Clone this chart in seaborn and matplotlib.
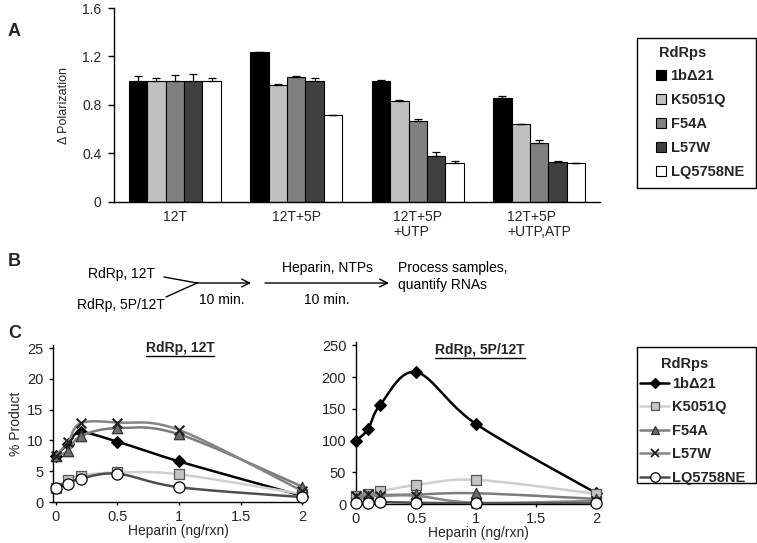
import numpy as np
import pandas as pd
import matplotlib
matplotlib.use("Agg")
import matplotlib.pyplot as plt
import seaborn as sns
from matplotlib.patches import Patch, FancyArrowPatch, Rectangle
from matplotlib.lines import Line2D

sns.set_theme(style="white")
plt.rcParams['font.family'] = ['Liberation Sans', 'DejaVu Sans']

# ---------------- data ----------------
rdrps = ["1bΔ21", "K5051Q", "F54A", "L57W", "LQ5758NE"]
conditions = ["12T", "12T+5P", "12T+5P\n+UTP", "12T+5P\n+UTP,ATP"]

pol_1b = [1.00, 1.235, 1.00, 0.86]
pol_k = [1.00, 0.967, 0.835, 0.64]
pol_f = [1.00, 1.03, 0.665, 0.49]
pol_l = [1.00, 0.995, 0.38, 0.33]
pol_lq = [1.00, 0.715, 0.32, 0.32]
err_1b = [0.036, 0.005, 0.010, 0.012]
err_k = [0.022, 0.004, 0.003, 0.003]
err_f = [0.050, 0.010, 0.017, 0.020]
err_l = [0.055, 0.025, 0.035, 0.005]
err_lq = [0.022, 0.003, 0.015, 0.0]

heparin = [0, 0.1, 0.2, 0.5, 1, 2]
p12_1b = [7.5, 9.5, 11.3, 9.8, 6.6, 1.0]
p12_k = [2.3, 3.6, 4.3, 4.8, 4.5, 1.3]
p12_f = [7.5, 8.3, 10.7, 12.0, 11.0, 2.5]
p12_l = [7.5, 9.8, 12.8, 12.9, 11.7, 1.8]
p12_lq = [2.2, 3.0, 3.8, 4.6, 2.4, 0.8]

p5_1b = [100, 118, 156, 208, 126, 17]
p5_k = [12, 16, 20, 30, 38, 16]
p5_f = [10, 12, 14, 15, 17, 8]
p5_l = [12, 15, 13, 13, 2, 5]
p5_lq = [2, 2, 3, 2, 1, 1]

pol_vals = [pol_1b, pol_k, pol_f, pol_l, pol_lq]
pol_errs = [err_1b, err_k, err_f, err_l, err_lq]
p12_vals = [p12_1b, p12_k, p12_f, p12_l, p12_lq]
p5_vals = [p5_1b, p5_k, p5_f, p5_l, p5_lq]

bar_colors = ["#000000", "#c0c0c0", "#808080", "#404040", "#ffffff"]
line_styles = [
    dict(color="#000000", marker="D", ms=6, mfc="#000000", mec="#000000"),
    dict(color="#cfcfcf", marker="s", ms=7, mfc="#c4c4c4", mec="#555555"),
    dict(color="#7c7c7c", marker="^", ms=7.5, mfc="#6e6e6e", mec="#333333"),
    dict(color="#858585", marker="x", ms=7, mfc="#222222", mec="#222222"),
    dict(color="#4d4d4d", marker="o", ms=8, mfc="#ffffff", mec="#000000"),
]

W, H = 757, 543
fig = plt.figure(figsize=(W / 100, H / 100), dpi=100)
fig.patch.set_facecolor("white")


def fx(px):
    return px / W


def fy(py):
    return 1 - py / H


def box(x0, y0, x1, y1):
    fig.add_artist(Rectangle((fx(x0), fy(y1)), fx(x1) - fx(x0), fy(y0) - fy(y1),
                             transform=fig.transFigure, facecolor="none",
                             edgecolor="black", lw=1))


# ---------------- Panel A ----------------
rows = []
for r, vals in zip(rdrps, pol_vals):
    for c, v in zip(conditions, vals):
        rows.append({"cond": c, "val": v, "rdrp": r})
dfA = pd.DataFrame(rows)

axA = fig.add_axes([fx(114), fy(202), fx(600) - fx(114), fy(8) - fy(202)])
sns.barplot(data=dfA, x="cond", y="val", hue="rdrp", order=conditions,
            hue_order=rdrps, palette=bar_colors, width=0.76, gap=0,
            edgecolor="black", linewidth=0.8, errorbar=None, legend=False,
            ax=axA)
for cont, errs in zip(axA.containers, pol_errs):
    xs = [b.get_x() + b.get_width() / 2 for b in cont]
    hs = [b.get_height() for b in cont]
    axA.errorbar(xs, hs, yerr=[np.zeros(len(errs)), errs], fmt="none",
                 ecolor="black", elinewidth=0.9, capsize=3, capthick=0.9)
axA.set_ylim(0, 1.6)
axA.set_xlim(-0.5, 3.5)
axA.set_yticks([0, 0.4, 0.8, 1.2, 1.6])
axA.set_yticklabels(["0", "0.4", "0.8", "1.2", "1.6"])
axA.set_xlabel("")
axA.set_ylabel("Δ Polarization", fontsize=9, labelpad=9)
axA.tick_params(axis="y", left=True, length=4, width=1, color="black",
                labelsize=10, pad=5)
axA.tick_params(axis="x", bottom=False, length=0, labelsize=10, pad=6)
for lab in axA.get_xticklabels():
    lab.set_multialignment("left")
    lab.set_linespacing(1.1)
for s in ["top", "right"]:
    axA.spines[s].set_visible(False)
for s in ["left", "bottom"]:
    axA.spines[s].set_color("black")
    axA.spines[s].set_linewidth(1)

box(637, 38, 756, 188)
fig.text(fx(659), fy(53), "RdRps", fontsize=10.5, fontweight="bold",
         ha="left", va="center")
handlesA = [Patch(facecolor=c, edgecolor="black", linewidth=0.8) for c in bar_colors]
legA = fig.legend(handlesA, rdrps, loc="upper left",
                  bbox_to_anchor=(fx(656), fy(69)), borderaxespad=0,
                  frameon=False, prop={"weight": "bold", "size": 10.5},
                  handlelength=0.7, handleheight=0.7, handletextpad=0.3,
                  labelspacing=0.685, borderpad=0)

# ---------------- Panel B (diagram) ----------------
tkw = dict(fontsize=10, color="black")
fig.text(fx(155), fy(274), "RdRp, 12T", ha="right", va="center", **tkw)
fig.text(fx(165), fy(305), "RdRp, 5P/12T", ha="right", va="center", **tkw)
fig.add_artist(Line2D([fx(164), fx(197)], [fy(277), fy(283)],
                      transform=fig.transFigure, color="black", lw=1))
fig.add_artist(Line2D([fx(166), fx(197)], [fy(297), fy(283)],
                      transform=fig.transFigure, color="black", lw=1))
fig.add_artist(FancyArrowPatch((fx(197), fy(283)), (fx(251), fy(283)),
                               transform=fig.transFigure, arrowstyle="->",
                               mutation_scale=14, lw=1, color="black",
                               shrinkA=0, shrinkB=0))
fig.add_artist(FancyArrowPatch((fx(265), fy(283)), (fx(389), fy(283)),
                               transform=fig.transFigure, arrowstyle="->",
                               mutation_scale=14, lw=1, color="black",
                               shrinkA=0, shrinkB=0))
fig.text(fx(222), fy(300), "10 min.", ha="center", va="center", **tkw)
fig.text(fx(327), fy(268), "Heparin, NTPs", ha="center", va="center", **tkw)
fig.text(fx(327), fy(300), "10 min.", ha="center", va="center", **tkw)
fig.text(fx(398), fy(268), "Process samples,", ha="left", va="center", **tkw)
fig.text(fx(398), fy(285), "quantify RNAs", ha="left", va="center", **tkw)

# ---------------- Panel C ----------------
axL = fig.add_axes([fx(53), fy(502), fx(303) - fx(53), fy(345) - fy(502)])
axR = fig.add_axes([fx(356), fy(504), fx(600) - fx(356), fy(342) - fy(504)])
axL.set_xlim(-0.024, 2.008)
axL.set_ylim(0, 25.5)
axR.set_xlim(0, 2.03)
axR.set_ylim(0, 255.5)


def smooth_curve(ax, xs, ys, n=40):
    # Excel-style smoothed line through the data points (Bezier in screen space)
    fig.canvas.draw()
    pts = ax.transData.transform(np.column_stack([xs, ys]))
    m = len(pts)
    out = []
    for i in range(m - 1):
        p0 = pts[max(i - 1, 0)]
        p1 = pts[i]
        p2 = pts[i + 1]
        p3 = pts[min(i + 2, m - 1)]
        c1 = p1 + (p2 - p0) / 6.0
        c2 = p2 - (p3 - p1) / 6.0
        t = np.linspace(0, 1, n)[:, None]
        seg = ((1 - t) ** 3) * p1 + 3 * ((1 - t) ** 2) * t * c1 + \
            3 * (1 - t) * t ** 2 * c2 + t ** 3 * p2
        out.append(seg if i == 0 else seg[1:])
    out = np.vstack(out)
    data = ax.transData.inverted().transform(out)
    return data[:, 0], data[:, 1]


for ax, series in [(axL, p12_vals), (axR, p5_vals)]:
    for k, (name, vals, st) in enumerate(zip(rdrps, series, line_styles)):
        sx, sy = smooth_curve(ax, heparin, vals)
        sns.lineplot(x=sx, y=sy, sort=False, estimator=None, color=st["color"],
                     lw=1.8, ax=ax, zorder=2 + k, legend=False)
        if st["marker"] == "x":
            sns.scatterplot(x=heparin, y=vals, marker="x", s=st["ms"] ** 2,
                            color=st["mec"], linewidth=1.5, ax=ax,
                            zorder=3 + k, clip_on=False, legend=False)
        else:
            sns.scatterplot(x=heparin, y=vals, marker=st["marker"],
                            s=st["ms"] ** 2, color=st["mfc"],
                            edgecolor=st["mec"], linewidth=0.9, ax=ax,
                            zorder=3 + k, clip_on=False, legend=False)

axL.set_yticks([0, 5, 10, 15, 20, 25])
axR.set_yticks([0, 50, 100, 150, 200, 250])
for ax in (axL, axR):
    ax.set_xticks([0, 0.5, 1, 1.5, 2])
    ax.set_xticklabels(["0", "0.5", "1", "1.5", "2"])
    ax.set_xlabel("Heparin (ng/rxn)", fontsize=10, labelpad=0)
    ax.tick_params(axis="y", left=True, length=3, width=1, color="black",
                   labelsize=10.5, pad=4)
    ax.tick_params(axis="x", bottom=True, length=2, width=1, color="black",
                   labelsize=10.5, pad=4)
    for s in ["top", "right"]:
        ax.spines[s].set_visible(False)
    for s in ["left", "bottom"]:
        ax.spines[s].set_color("black")
        ax.spines[s].set_linewidth(1)
axL.set_ylabel("% Product", fontsize=10, labelpad=3)
axR.set_ylabel("")

tL = fig.text(fx(180), fy(348), "RdRp, 12T", ha="center", va="center",
              fontsize=10, fontweight="bold")
tR = fig.text(fx(480), fy(350), "RdRp, 5P/12T", ha="center", va="center",
              fontsize=10, fontweight="bold")

box(637, 347, 756, 483)
fig.text(fx(661), fy(364), "RdRps", fontsize=10.5, fontweight="bold",
         ha="left", va="center")
handlesC = [Line2D([], [], color=st["color"], lw=1.8, marker=st["marker"],
                   markersize=st["ms"] * 0.85, markerfacecolor=st["mfc"],
                   markeredgecolor=st["mec"],
                   markeredgewidth=1.3 if st["marker"] == "x" else 0.9)
            for st in line_styles]
legC = fig.legend(handlesC, rdrps, loc="upper left",
                  bbox_to_anchor=(fx(640), fy(377)), borderaxespad=0,
                  frameon=False, prop={"weight": "bold", "size": 10.5},
                  handlelength=2.0, handletextpad=0.2, labelspacing=0.65,
                  borderpad=0)

# panel letters
fig.text(fx(8), fy(32), "A", fontsize=13, fontweight="bold", ha="left", va="center")
fig.text(fx(8), fy(262), "B", fontsize=13, fontweight="bold", ha="left", va="center")
fig.text(fx(8), fy(333), "C", fontsize=13, fontweight="bold", ha="left", va="center")

# underline the two panel-C titles
fig.canvas.draw()
rend = fig.canvas.get_renderer()
inv = fig.transFigure.inverted()
for t in (tL, tR):
    bb = t.get_window_extent(renderer=rend)
    (x0, y0), (x1, _) = inv.transform([[bb.x0, bb.y0 - 0.5], [bb.x1, bb.y0]])
    fig.add_artist(Line2D([x0, x1], [y0, y0], transform=fig.transFigure,
                          color="black", lw=1))

fig.savefig("out.png", dpi=100, facecolor="white")
